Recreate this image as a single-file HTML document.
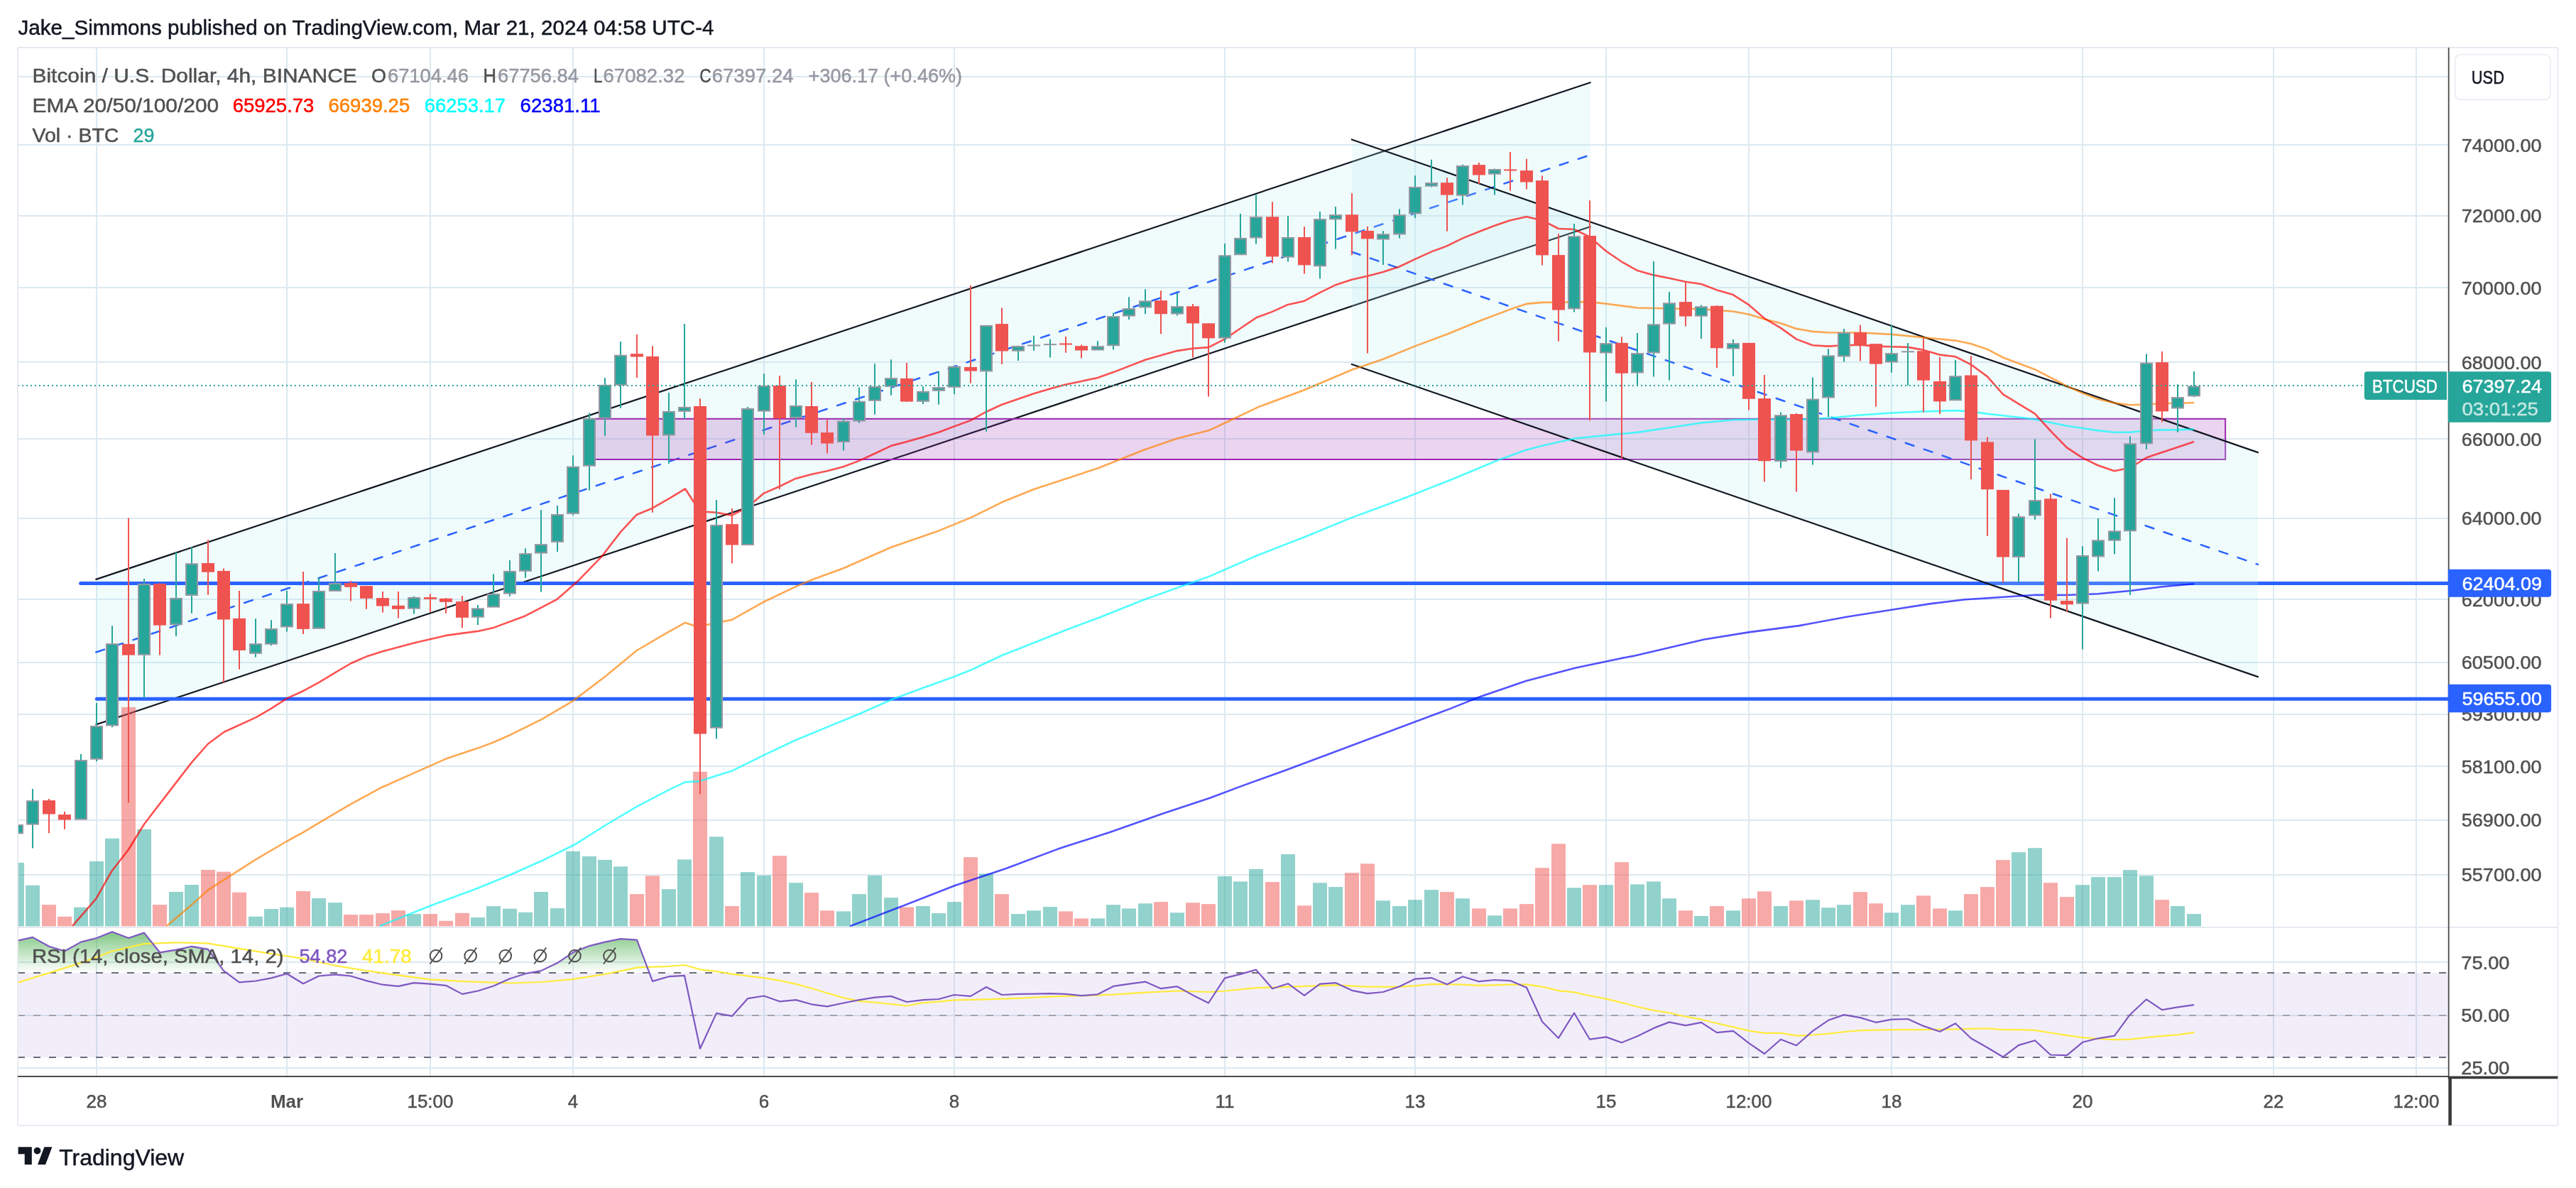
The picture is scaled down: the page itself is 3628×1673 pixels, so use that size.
<!DOCTYPE html>
<html><head><meta charset="utf-8"><title>BTCUSD chart</title>
<style>html,body{margin:0;padding:0;background:#fff;}body{width:3628px;height:1673px;overflow:hidden;}svg{display:block;font-family:"Liberation Sans",sans-serif;will-change:transform;}</style></head><body>
<svg width="3628" height="1673" viewBox="0 0 3628 1673">
<defs>
<linearGradient id="rg" gradientUnits="userSpaceOnUse" x1="0" y1="1300" x2="0" y2="1370"><stop offset="0" stop-color="#4caf50" stop-opacity="0.85"/><stop offset="1" stop-color="#4caf50" stop-opacity="0"/></linearGradient>
<clipPath id="cm"><rect x="25.6" y="67" width="3423.1" height="1239"/></clipPath>
<clipPath id="cr"><rect x="25.6" y="1306" width="3423.1" height="209.8"/></clipPath>
</defs>
<rect width="3628" height="1673" fill="#fff"/>
<g stroke="#dde9f1" stroke-width="2" fill="none">
<path d="M136 67 V1515.8"/>
<path d="M404 67 V1515.8"/>
<path d="M606 67 V1515.8"/>
<path d="M807 67 V1515.8"/>
<path d="M1076 67 V1515.8"/>
<path d="M1344 67 V1515.8"/>
<path d="M1725 67 V1515.8"/>
<path d="M1993 67 V1515.8"/>
<path d="M2262 67 V1515.8"/>
<path d="M2463 67 V1515.8"/>
<path d="M2664 67 V1515.8"/>
<path d="M2933 67 V1515.8"/>
<path d="M3202 67 V1515.8"/>
<path d="M3403 67 V1515.8"/>
<path d="M25 108 H3448.7"/>
<path d="M25 204 H3448.7"/>
<path d="M25 304 H3448.7"/>
<path d="M25 405 H3448.7"/>
<path d="M25 510 H3448.7"/>
<path d="M25 618 H3448.7"/>
<path d="M25 730 H3448.7"/>
<path d="M25 844 H3448.7"/>
<path d="M25 933 H3448.7"/>
<path d="M25 1006 H3448.7"/>
<path d="M25 1079 H3448.7"/>
<path d="M25 1155 H3448.7"/>
<path d="M25 1232 H3448.7"/>
<path d="M25 1355 H3448.7"/>
<path d="M25 1430 H3448.7"/>
<path d="M25 1504 H3448.7"/>
</g>
<rect x="25" y="1370" width="3423.7" height="119" fill="#7e57c2" fill-opacity="0.1"/>
<g clip-path="url(#cm)">
<path d="M135.3 815.9 L2239.7 116.2 L2239.7 319.2 L135.3 1020.4Z" fill="#b2ebf2" fill-opacity="0.2"/>
<path d="M135.3 918.5 L2239.7 218.2" stroke="#2962ff" stroke-width="2.5" fill="none" stroke-linecap="round" stroke-dasharray="12.3 15.2"/>
<path d="M135.3 815.9 L2239.7 116.2" stroke="#131722" stroke-width="2.2" fill="none" stroke-linecap="round"/>
<path d="M135.3 1020.4 L2239.7 319.2" stroke="#131722" stroke-width="2.2" fill="none" stroke-linecap="round"/>
<rect x="829.8" y="589.8" width="2304.4" height="57.2" fill="#9c27b0" fill-opacity="0.2" stroke="#9c27b0" stroke-width="2"/>
<path d="M113.6 821.4 H3448.7" stroke="#2962ff" stroke-width="5" stroke-linecap="round"/>
<path d="M136.3 984.2 H3448.7" stroke="#2962ff" stroke-width="5" stroke-linecap="round"/>
<path d="M1903.8 196.5 L3180 637.1 L3180 953.1 L1903.8 513Z" fill="#b2ebf2" fill-opacity="0.2"/>
<path d="M1903.8 354.7 L3180 794.9" stroke="#2962ff" stroke-width="2.5" fill="none" stroke-linecap="round" stroke-dasharray="12.3 15.2"/>
<path d="M1903.8 196.5 L3180 637.1" stroke="#131722" stroke-width="2.2" fill="none" stroke-linecap="round"/>
<path d="M1903.8 513 L3180 953.1" stroke="#131722" stroke-width="2.2" fill="none" stroke-linecap="round"/>
<g fill-opacity="0.5">
<rect x="14" y="1214.9" width="20" height="89.5" fill="#26a69a"/>
<rect x="36" y="1246.7" width="20" height="57.7" fill="#26a69a"/>
<rect x="59" y="1274.1" width="20" height="30.3" fill="#ef5350"/>
<rect x="81" y="1290.8" width="20" height="13.6" fill="#ef5350"/>
<rect x="104" y="1277.7" width="20" height="26.7" fill="#26a69a"/>
<rect x="126" y="1212.9" width="20" height="91.5" fill="#26a69a"/>
<rect x="148" y="1180.8" width="20" height="123.6" fill="#26a69a"/>
<rect x="171" y="995.8" width="20" height="308.6" fill="#ef5350"/>
<rect x="193" y="1167.8" width="20" height="136.6" fill="#26a69a"/>
<rect x="215" y="1274.1" width="20" height="30.3" fill="#ef5350"/>
<rect x="238" y="1256" width="20" height="48.4" fill="#26a69a"/>
<rect x="260" y="1246" width="20" height="58.4" fill="#26a69a"/>
<rect x="283" y="1225" width="20" height="79.4" fill="#ef5350"/>
<rect x="305" y="1227.6" width="20" height="76.8" fill="#ef5350"/>
<rect x="327" y="1256.7" width="20" height="47.7" fill="#ef5350"/>
<rect x="350" y="1290.8" width="20" height="13.6" fill="#26a69a"/>
<rect x="372" y="1280.1" width="20" height="24.3" fill="#26a69a"/>
<rect x="394" y="1277.7" width="20" height="26.7" fill="#26a69a"/>
<rect x="417" y="1255" width="20" height="49.4" fill="#ef5350"/>
<rect x="439" y="1265" width="20" height="39.4" fill="#26a69a"/>
<rect x="462" y="1271.1" width="20" height="33.3" fill="#26a69a"/>
<rect x="484" y="1288.1" width="20" height="16.3" fill="#ef5350"/>
<rect x="506" y="1288.1" width="20" height="16.3" fill="#ef5350"/>
<rect x="529" y="1286.1" width="20" height="18.3" fill="#ef5350"/>
<rect x="551" y="1282.1" width="20" height="22.3" fill="#ef5350"/>
<rect x="573" y="1287.1" width="20" height="17.3" fill="#26a69a"/>
<rect x="596" y="1287.1" width="20" height="17.3" fill="#ef5350"/>
<rect x="618" y="1296.8" width="20" height="7.6" fill="#ef5350"/>
<rect x="641" y="1285.8" width="20" height="18.6" fill="#ef5350"/>
<rect x="663" y="1292.1" width="20" height="12.3" fill="#26a69a"/>
<rect x="685" y="1276.1" width="20" height="28.3" fill="#26a69a"/>
<rect x="708" y="1279.7" width="20" height="24.7" fill="#26a69a"/>
<rect x="730" y="1284.8" width="20" height="19.6" fill="#26a69a"/>
<rect x="752" y="1256" width="20" height="48.4" fill="#26a69a"/>
<rect x="775" y="1279.1" width="20" height="25.3" fill="#26a69a"/>
<rect x="797" y="1198.9" width="20" height="105.5" fill="#26a69a"/>
<rect x="820" y="1205.9" width="20" height="98.5" fill="#26a69a"/>
<rect x="842" y="1210.9" width="20" height="93.5" fill="#26a69a"/>
<rect x="864" y="1220.3" width="20" height="84.1" fill="#26a69a"/>
<rect x="887" y="1259.1" width="20" height="45.3" fill="#ef5350"/>
<rect x="909" y="1233.3" width="20" height="71.1" fill="#ef5350"/>
<rect x="932" y="1252.1" width="20" height="52.3" fill="#26a69a"/>
<rect x="954" y="1210.4" width="20" height="94" fill="#26a69a"/>
<rect x="976" y="1086.8" width="20" height="217.6" fill="#ef5350"/>
<rect x="999" y="1178.3" width="20" height="126.1" fill="#26a69a"/>
<rect x="1021" y="1276" width="20" height="28.4" fill="#ef5350"/>
<rect x="1043" y="1228.1" width="20" height="76.3" fill="#26a69a"/>
<rect x="1066" y="1232.9" width="20" height="71.5" fill="#26a69a"/>
<rect x="1088" y="1205.2" width="20" height="99.2" fill="#ef5350"/>
<rect x="1111" y="1243.2" width="20" height="61.2" fill="#26a69a"/>
<rect x="1133" y="1257.2" width="20" height="47.2" fill="#ef5350"/>
<rect x="1155" y="1282.3" width="20" height="22.1" fill="#ef5350"/>
<rect x="1178" y="1283.4" width="20" height="21" fill="#26a69a"/>
<rect x="1200" y="1259.1" width="20" height="45.3" fill="#26a69a"/>
<rect x="1222" y="1232.9" width="20" height="71.5" fill="#26a69a"/>
<rect x="1245" y="1264.2" width="20" height="40.2" fill="#26a69a"/>
<rect x="1267" y="1277.5" width="20" height="26.9" fill="#ef5350"/>
<rect x="1290" y="1276" width="20" height="28.4" fill="#26a69a"/>
<rect x="1312" y="1286" width="20" height="18.4" fill="#26a69a"/>
<rect x="1334" y="1270.1" width="20" height="34.3" fill="#26a69a"/>
<rect x="1357" y="1207.1" width="20" height="97.3" fill="#ef5350"/>
<rect x="1379" y="1230.3" width="20" height="74.1" fill="#26a69a"/>
<rect x="1401" y="1259.1" width="20" height="45.3" fill="#ef5350"/>
<rect x="1424" y="1287.1" width="20" height="17.3" fill="#26a69a"/>
<rect x="1446" y="1282.3" width="20" height="22.1" fill="#26a69a"/>
<rect x="1469" y="1277.1" width="20" height="27.3" fill="#26a69a"/>
<rect x="1491" y="1283.4" width="20" height="21" fill="#ef5350"/>
<rect x="1513" y="1293.4" width="20" height="11" fill="#ef5350"/>
<rect x="1536" y="1293.4" width="20" height="11" fill="#26a69a"/>
<rect x="1558" y="1274.2" width="20" height="30.2" fill="#26a69a"/>
<rect x="1580" y="1279.4" width="20" height="25" fill="#26a69a"/>
<rect x="1603" y="1272.3" width="20" height="32.1" fill="#26a69a"/>
<rect x="1625" y="1270.1" width="20" height="34.3" fill="#ef5350"/>
<rect x="1648" y="1285.3" width="20" height="19.1" fill="#26a69a"/>
<rect x="1670" y="1271.2" width="20" height="33.2" fill="#ef5350"/>
<rect x="1692" y="1273.1" width="20" height="31.3" fill="#ef5350"/>
<rect x="1715" y="1234" width="20" height="70.4" fill="#26a69a"/>
<rect x="1737" y="1241.4" width="20" height="63" fill="#26a69a"/>
<rect x="1759" y="1224" width="20" height="80.4" fill="#26a69a"/>
<rect x="1782" y="1242.1" width="20" height="62.3" fill="#ef5350"/>
<rect x="1804" y="1203" width="20" height="101.4" fill="#26a69a"/>
<rect x="1827" y="1275.3" width="20" height="29.1" fill="#ef5350"/>
<rect x="1849" y="1243.2" width="20" height="61.2" fill="#26a69a"/>
<rect x="1871" y="1249.1" width="20" height="55.3" fill="#26a69a"/>
<rect x="1894" y="1229.2" width="20" height="75.2" fill="#ef5350"/>
<rect x="1916" y="1216.3" width="20" height="88.1" fill="#ef5350"/>
<rect x="1938" y="1268.3" width="20" height="36.1" fill="#26a69a"/>
<rect x="1961" y="1276" width="20" height="28.4" fill="#26a69a"/>
<rect x="1983" y="1267.2" width="20" height="37.2" fill="#26a69a"/>
<rect x="2006" y="1253.2" width="20" height="51.2" fill="#26a69a"/>
<rect x="2028" y="1256.1" width="20" height="48.3" fill="#ef5350"/>
<rect x="2050" y="1265.3" width="20" height="39.1" fill="#26a69a"/>
<rect x="2073" y="1279.4" width="20" height="25" fill="#ef5350"/>
<rect x="2095" y="1289.3" width="20" height="15.1" fill="#26a69a"/>
<rect x="2117" y="1279.4" width="20" height="25" fill="#ef5350"/>
<rect x="2140" y="1273.1" width="20" height="31.3" fill="#ef5350"/>
<rect x="2162" y="1222.2" width="20" height="82.2" fill="#ef5350"/>
<rect x="2185" y="1188.3" width="20" height="116.1" fill="#ef5350"/>
<rect x="2207" y="1250.2" width="20" height="54.2" fill="#26a69a"/>
<rect x="2229" y="1246.2" width="20" height="58.2" fill="#ef5350"/>
<rect x="2252" y="1246.2" width="20" height="58.2" fill="#26a69a"/>
<rect x="2274" y="1214.1" width="20" height="90.3" fill="#ef5350"/>
<rect x="2296" y="1245.4" width="20" height="59" fill="#26a69a"/>
<rect x="2319" y="1241.4" width="20" height="63" fill="#26a69a"/>
<rect x="2341" y="1265.3" width="20" height="39.1" fill="#26a69a"/>
<rect x="2364" y="1282.3" width="20" height="22.1" fill="#ef5350"/>
<rect x="2386" y="1290" width="20" height="14.4" fill="#26a69a"/>
<rect x="2408" y="1276" width="20" height="28.4" fill="#ef5350"/>
<rect x="2431" y="1282.3" width="20" height="22.1" fill="#26a69a"/>
<rect x="2453" y="1265.3" width="20" height="39.1" fill="#ef5350"/>
<rect x="2475" y="1255.4" width="20" height="49" fill="#ef5350"/>
<rect x="2498" y="1276" width="20" height="28.4" fill="#26a69a"/>
<rect x="2520" y="1268.3" width="20" height="36.1" fill="#ef5350"/>
<rect x="2543" y="1267.2" width="20" height="37.2" fill="#26a69a"/>
<rect x="2565" y="1278.2" width="20" height="26.2" fill="#26a69a"/>
<rect x="2587" y="1274.2" width="20" height="30.2" fill="#26a69a"/>
<rect x="2610" y="1256.1" width="20" height="48.3" fill="#ef5350"/>
<rect x="2632" y="1272.3" width="20" height="32.1" fill="#ef5350"/>
<rect x="2654" y="1285.3" width="20" height="19.1" fill="#26a69a"/>
<rect x="2677" y="1274.2" width="20" height="30.2" fill="#26a69a"/>
<rect x="2699" y="1261.3" width="20" height="43.1" fill="#ef5350"/>
<rect x="2722" y="1279.4" width="20" height="25" fill="#ef5350"/>
<rect x="2744" y="1282.3" width="20" height="22.1" fill="#26a69a"/>
<rect x="2766" y="1259.1" width="20" height="45.3" fill="#ef5350"/>
<rect x="2789" y="1249.1" width="20" height="55.3" fill="#ef5350"/>
<rect x="2811" y="1211.1" width="20" height="93.3" fill="#ef5350"/>
<rect x="2833" y="1200.1" width="20" height="104.3" fill="#26a69a"/>
<rect x="2856" y="1194.2" width="20" height="110.2" fill="#26a69a"/>
<rect x="2878" y="1243.2" width="20" height="61.2" fill="#ef5350"/>
<rect x="2901" y="1263.1" width="20" height="41.3" fill="#ef5350"/>
<rect x="2923" y="1246.2" width="20" height="58.2" fill="#26a69a"/>
<rect x="2945" y="1235.1" width="20" height="69.3" fill="#26a69a"/>
<rect x="2968" y="1235.1" width="20" height="69.3" fill="#26a69a"/>
<rect x="2990" y="1225.1" width="20" height="79.3" fill="#26a69a"/>
<rect x="3013" y="1233.3" width="20" height="71.1" fill="#26a69a"/>
<rect x="3035" y="1267.2" width="20" height="37.2" fill="#ef5350"/>
<rect x="3057" y="1276" width="20" height="28.4" fill="#26a69a"/>
<rect x="3080" y="1287.1" width="20" height="17.3" fill="#26a69a"/>
</g>
<path d="M1197 1304.4 L1268.8 1276.8 L1344.4 1247.3 L1416.3 1223.3 L1490 1195.6 L1563.8 1171.7 L1637.6 1145.8 L1704 1123.7 L1748.2 1107.1 L1809.8 1085 L2042.1 998.1 L2086.4 980.4 L2149.1 959 L2219.1 940.6 L2283.7 926.9 L2300 923.9 L2350.1 912.2 L2400.2 900.5 L2462.7 890.4 L2533.9 881.1 L2600.7 868.7 L2664.2 858.7 L2717.6 850.4 L2767.8 844.3 L2817.9 841 L2868 837.7 L2911.4 838 L2954.9 836.3 L3000 832 L3045.1 826.3 L3090.2 822.3" stroke="#0000ff" stroke-width="2.6" fill="none" stroke-linejoin="round" stroke-opacity="0.68"/>
<path d="M534.6 1304.1 L605.7 1275.7 L672.9 1250.7 L718 1232.3 L762.8 1212.3 L807.2 1190.5 L813.6 1186.9 L852 1162.5 L896.8 1135.8 L941.9 1112.4 L965 1101.4 L986 1100.1 L1008.7 1092.4 L1030.8 1085.7 L1075.9 1063.3 L1120.6 1042.3 L1165.1 1023.9 L1209.9 1005.5 L1255 985.5 L1300.1 968.8 L1344.2 952.7 L1366.9 943.7 L1411 923 L1456.1 905.3 L1500.4 887.5 L1547.9 869.8 L1610.6 844.7 L1702.8 811.9 L1772.9 781.3 L1839.3 755.5 L1902 729.6 L1972 703.8 L2042.1 676.2 L2108.5 648.5 L2149.1 633.8 L2174.9 627.1 L2219.1 617.2 L2283.7 610.9 L2306.1 608.9 L2350.9 602.2 L2396 595.5 L2440.8 591.2 L2485.2 590.5 L2530 591.2 L2574.8 588.8 L2619.9 584.5 L2664 581.5 L2709.1 579.5 L2754.2 578.1 L2776.2 579.5 L2799 582.8 L2821.1 585.3 L2865.9 590.4 L2911 599.7 L2933.1 603 L2955.1 606.4 L2977.8 608.7 L3000.2 608.7 L3022.9 606.4 L3045 605.4 L3067 605.4 L3090.1 604.4" stroke="#00ffff" stroke-width="2.6" fill="none" stroke-linejoin="round" stroke-opacity="0.68"/>
<path d="M234.9 1304.1 L270 1274.1 L293 1253.4 L325.8 1232.3 L359.8 1210.6 L404.3 1184.5 L427 1172.2 L449 1158.8 L494.5 1132.1 L537.9 1108.7 L583 1088.6 L628.1 1068.6 L672.9 1053.6 L695.3 1045.2 L718 1035.2 L762.6 1013.2 L806.9 987.1 L852 953 L896.8 916 L941.9 889.6 L965 876.9 L977.3 880.9 L994 880.2 L1008.7 876.9 L1030.8 872.9 L1053.2 860.2 L1075.9 847.5 L1120.6 826.1 L1142.7 816.7 L1187.8 800.2 L1255 770.8 L1322.1 747.4 L1366.9 729.1 L1411 707.3 L1456.1 689 L1500.4 674.5 L1547.9 658.8 L1610.6 633.8 L1658.6 617.2 L1702.8 606.1 L1739.7 588.8 L1772.9 572.9 L1836.8 549.2 L1903.9 520.8 L1948 505.8 L1993.2 487.4 L2037.9 470.7 L2083 452.3 L2127.1 435.6 L2149.8 427.9 L2171.9 425.9 L2194.9 425.7 L2239 425.1 L2262 427.8 L2306.1 433.5 L2350.9 434.5 L2396 435.1 L2440.8 438.5 L2463.2 442.8 L2485.2 449.5 L2508 455.2 L2530 462.9 L2552.7 466.9 L2574.8 468.2 L2619.9 468.5 L2664 470.9 L2709.1 475.2 L2754.2 479.6 L2776.2 484.2 L2799 491.9 L2821.1 503.5 L2865.9 520.2 L2888.3 531.9 L2911 543.6 L2933.1 553.6 L2955.1 562 L2977.8 567.6 L3000.2 570.3 L3022.9 569.6 L3045 568 L3067 568 L3090.1 567" stroke="#ff8000" stroke-width="2.6" fill="none" stroke-linejoin="round" stroke-opacity="0.68"/>
<path d="M101.9 1304.1 L135.3 1265.7 L157 1227.3 L180.4 1197.2 L203.1 1160.5 L233.9 1120.4 L270 1073.6 L293 1047.5 L315.7 1030.8 L360.8 1010.1 L382.6 997.4 L404.3 983.4 L427.7 972.7 L449 961.1 L471.8 947.4 L494.5 934 L516.2 924.6 L538.9 917.3 L583 905.6 L628.1 894.9 L672.9 888.9 L695.3 883.9 L740.1 867.2 L784.8 843.8 L815.3 816.9 L847 784.2 L874.1 749.1 L896.8 724.7 L918.8 715.7 L941.9 702.3 L965 688.3 L977.3 707.3 L986 718.4 L994 720.7 L1008.7 721.7 L1030.8 725.7 L1053.2 714 L1075.9 694.6 L1097.9 685 L1120.6 673.9 L1142.7 667.9 L1165.1 663.2 L1187.8 657.2 L1209.9 648.9 L1231.9 638.8 L1255 627.8 L1277 622.1 L1300.1 615.5 L1322.1 608.8 L1344.2 600.4 L1366.9 592.1 L1389.3 579.7 L1411 569.7 L1433.7 562 L1456.1 554.3 L1478.8 547.6 L1500.9 541.6 L1522.9 536.9 L1546 531.9 L1568.2 524.1 L1612.9 506.8 L1657.7 494.1 L1679.8 490.7 L1702.1 489.1 L1725.2 477.4 L1747.2 462.3 L1769.3 447.3 L1792 438.9 L1814.1 428.9 L1836.8 423.9 L1858.8 412.2 L1881.2 401.2 L1903.9 393.8 L1926 388.8 L1948 383.1 L1970.8 375.5 L1993.2 364.8 L2016.2 354.4 L2037.9 346.4 L2060.3 335.4 L2083 326.3 L2105.1 317.7 L2127.1 310.3 L2149.8 305.3 L2171.9 310.3 L2195 322 L2217 323 L2239.1 333.7 L2262.1 353.7 L2284.2 368.8 L2306.2 381.1 L2328.9 387.4 L2350.9 391.7 L2373.6 396.7 L2396 400 L2418.1 408.4 L2440.8 415.1 L2463.2 429.4 L2485.2 448.5 L2508 461.9 L2530 477.6 L2552.7 486.2 L2574.8 487.6 L2597.2 486.2 L2619.9 485.6 L2641.9 487.6 L2664 488.3 L2687 488.9 L2709.1 492.9 L2731.8 499.6 L2754.2 502.3 L2776.2 513.6 L2799 530.4 L2821.1 555.3 L2842.9 568.6 L2865.9 582.7 L2888.3 607.1 L2911 630.4 L2933.1 644.8 L2955.1 655.5 L2977.8 663.2 L3000.2 658.8 L3022.9 644.5 L3045 637.1 L3067 629.8 L3090.1 622.1" stroke="#ff0000" stroke-width="2.6" fill="none" stroke-linejoin="round" stroke-opacity="0.68"/>
<path d="M24 1157.1 V1180.5" stroke="#26a69a" stroke-width="2"/>
<rect x="16" y="1162" width="16" height="11.4" fill="#26a69a" stroke="#9598a1" stroke-width="2"/>
<path d="M46 1111 V1194.5" stroke="#26a69a" stroke-width="2"/>
<rect x="38" y="1128.2" width="16" height="32.4" fill="#26a69a" stroke="#9598a1" stroke-width="2"/>
<path d="M69 1125.1 V1173.2" stroke="#ef5350" stroke-width="2"/>
<rect x="60" y="1127.1" width="18" height="19.4" fill="#ef5350"/>
<path d="M91 1143.1 V1167.8" stroke="#ef5350" stroke-width="2"/>
<rect x="82" y="1147.1" width="18" height="7.4" fill="#ef5350"/>
<path d="M114 1061.9 V1154.1" stroke="#26a69a" stroke-width="2"/>
<rect x="106" y="1071.1" width="16" height="82.5" fill="#26a69a" stroke="#9598a1" stroke-width="2"/>
<path d="M136 990.1 V1072.3" stroke="#26a69a" stroke-width="2"/>
<rect x="128" y="1023" width="16" height="45.7" fill="#26a69a" stroke="#9598a1" stroke-width="2"/>
<path d="M158 881.2 V1024.2" stroke="#26a69a" stroke-width="2"/>
<rect x="150" y="907.1" width="16" height="114.3" fill="#26a69a" stroke="#9598a1" stroke-width="2"/>
<path d="M181 729.5 V1130.4" stroke="#ef5350" stroke-width="2"/>
<rect x="172" y="906.9" width="18" height="15.7" fill="#ef5350"/>
<path d="M203 815.1 V983.1" stroke="#26a69a" stroke-width="2"/>
<rect x="195" y="822.9" width="16" height="98.9" fill="#26a69a" stroke="#9598a1" stroke-width="2"/>
<path d="M225 821.1 V922.6" stroke="#ef5350" stroke-width="2"/>
<rect x="216" y="822.1" width="18" height="58.5" fill="#ef5350"/>
<path d="M248 778 V895.9" stroke="#26a69a" stroke-width="2"/>
<rect x="240" y="842.9" width="16" height="36.4" fill="#26a69a" stroke="#9598a1" stroke-width="2"/>
<path d="M270 770.3 V863.8" stroke="#26a69a" stroke-width="2"/>
<rect x="262" y="794.2" width="16" height="43.8" fill="#26a69a" stroke="#9598a1" stroke-width="2"/>
<path d="M293 760.3 V837.8" stroke="#ef5350" stroke-width="2"/>
<rect x="284" y="793" width="18" height="12.7" fill="#ef5350"/>
<path d="M315 800.4 V960.7" stroke="#ef5350" stroke-width="2"/>
<rect x="306" y="804" width="18" height="68.5" fill="#ef5350"/>
<path d="M337 832.1 V942.7" stroke="#ef5350" stroke-width="2"/>
<rect x="328" y="870.8" width="18" height="45.1" fill="#ef5350"/>
<path d="M360 871.2 V925.6" stroke="#26a69a" stroke-width="2"/>
<rect x="352" y="907.1" width="16" height="12.7" fill="#26a69a" stroke="#9598a1" stroke-width="2"/>
<path d="M382 873.2 V908.9" stroke="#26a69a" stroke-width="2"/>
<rect x="374" y="886" width="16" height="20.7" fill="#26a69a" stroke="#9598a1" stroke-width="2"/>
<path d="M404 832.1 V889.6" stroke="#26a69a" stroke-width="2"/>
<rect x="396" y="851" width="16" height="31.4" fill="#26a69a" stroke="#9598a1" stroke-width="2"/>
<path d="M427 805 V892.9" stroke="#ef5350" stroke-width="2"/>
<rect x="418" y="850.1" width="18" height="35.8" fill="#ef5350"/>
<path d="M449 813.7 V885.2" stroke="#26a69a" stroke-width="2"/>
<rect x="441" y="832.9" width="16" height="51.8" fill="#26a69a" stroke="#9598a1" stroke-width="2"/>
<path d="M472 779 V832.4" stroke="#26a69a" stroke-width="2"/>
<rect x="464" y="821.9" width="16" height="10" fill="#26a69a" stroke="#9598a1" stroke-width="2"/>
<path d="M494 818.1 V846.5" stroke="#ef5350" stroke-width="2"/>
<rect x="485" y="821.1" width="18" height="5.7" fill="#ef5350"/>
<path d="M516 825.1 V857.8" stroke="#ef5350" stroke-width="2"/>
<rect x="507" y="825.1" width="18" height="17.7" fill="#ef5350"/>
<path d="M539 833.1 V862.5" stroke="#ef5350" stroke-width="2"/>
<rect x="530" y="842.1" width="18" height="11.4" fill="#ef5350"/>
<path d="M561 833.1 V870.5" stroke="#ef5350" stroke-width="2"/>
<rect x="552" y="852.8" width="18" height="5" fill="#ef5350"/>
<path d="M583 839.8 V864.5" stroke="#26a69a" stroke-width="2"/>
<rect x="575" y="841.9" width="16" height="14.7" fill="#26a69a" stroke="#9598a1" stroke-width="2"/>
<path d="M606 836.4 V861.8" stroke="#ef5350" stroke-width="2"/>
<rect x="597" y="841.1" width="18" height="2.7" fill="#ef5350"/>
<path d="M628 842.1 V863.8" stroke="#ef5350" stroke-width="2"/>
<rect x="619" y="842.8" width="18" height="5" fill="#ef5350"/>
<path d="M651 839.1 V883.9" stroke="#ef5350" stroke-width="2"/>
<rect x="642" y="847.1" width="18" height="22.7" fill="#ef5350"/>
<path d="M673 852.1 V879.9" stroke="#26a69a" stroke-width="2"/>
<rect x="665" y="857.3" width="16" height="11.4" fill="#26a69a" stroke="#9598a1" stroke-width="2"/>
<path d="M695 808.4 V855.1" stroke="#26a69a" stroke-width="2"/>
<rect x="687" y="836.9" width="16" height="17.7" fill="#26a69a" stroke="#9598a1" stroke-width="2"/>
<path d="M718 789 V839.8" stroke="#26a69a" stroke-width="2"/>
<rect x="710" y="804.9" width="16" height="30.7" fill="#26a69a" stroke="#9598a1" stroke-width="2"/>
<path d="M740 772.3 V813.7" stroke="#26a69a" stroke-width="2"/>
<rect x="732" y="780.1" width="16" height="23.7" fill="#26a69a" stroke="#9598a1" stroke-width="2"/>
<path d="M762 718.2 V833.8" stroke="#26a69a" stroke-width="2"/>
<rect x="754" y="767.1" width="16" height="11.4" fill="#26a69a" stroke="#9598a1" stroke-width="2"/>
<path d="M785 712.1 V777" stroke="#26a69a" stroke-width="2"/>
<rect x="777" y="725" width="16" height="37.8" fill="#26a69a" stroke="#9598a1" stroke-width="2"/>
<path d="M807 641.2 V725.7" stroke="#26a69a" stroke-width="2"/>
<rect x="799" y="657.7" width="16" height="65.2" fill="#26a69a" stroke="#9598a1" stroke-width="2"/>
<path d="M830 581.4 V690.6" stroke="#26a69a" stroke-width="2"/>
<rect x="822" y="589.9" width="16" height="65.8" fill="#26a69a" stroke="#9598a1" stroke-width="2"/>
<path d="M852 531.9 V613.8" stroke="#26a69a" stroke-width="2"/>
<rect x="844" y="542.8" width="16" height="45.8" fill="#26a69a" stroke="#9598a1" stroke-width="2"/>
<path d="M874 481.1 V574.7" stroke="#26a69a" stroke-width="2"/>
<rect x="866" y="500.7" width="16" height="41.1" fill="#26a69a" stroke="#9598a1" stroke-width="2"/>
<path d="M897 471.1 V531.9" stroke="#ef5350" stroke-width="2"/>
<rect x="888" y="498.2" width="18" height="4.3" fill="#ef5350"/>
<path d="M919 487.2 V721.7" stroke="#ef5350" stroke-width="2"/>
<rect x="910" y="501.9" width="18" height="111.6" fill="#ef5350"/>
<path d="M942 553 V652.9" stroke="#26a69a" stroke-width="2"/>
<rect x="934" y="579.9" width="16" height="32.7" fill="#26a69a" stroke="#9598a1" stroke-width="2"/>
<path d="M964 456.1 V589.7" stroke="#26a69a" stroke-width="2"/>
<rect x="956" y="573.9" width="16" height="5" fill="#26a69a" stroke="#9598a1" stroke-width="2"/>
<path d="M986 561.3 V1118.4" stroke="#ef5350" stroke-width="2"/>
<rect x="977" y="572" width="18" height="461.5" fill="#ef5350"/>
<path d="M1009 704 V1040.6" stroke="#26a69a" stroke-width="2"/>
<rect x="1001" y="739.9" width="16" height="284.8" fill="#26a69a" stroke="#9598a1" stroke-width="2"/>
<path d="M1031 716 V793.5" stroke="#ef5350" stroke-width="2"/>
<rect x="1022" y="738.1" width="18" height="29.4" fill="#ef5350"/>
<path d="M1053 573 V767.5" stroke="#26a69a" stroke-width="2"/>
<rect x="1045" y="575.9" width="16" height="191.1" fill="#26a69a" stroke="#9598a1" stroke-width="2"/>
<path d="M1076 526.2 V611.8" stroke="#26a69a" stroke-width="2"/>
<rect x="1068" y="543.8" width="16" height="34.8" fill="#26a69a" stroke="#9598a1" stroke-width="2"/>
<path d="M1098 528.9 V689.3" stroke="#ef5350" stroke-width="2"/>
<rect x="1089" y="543" width="18" height="46.1" fill="#ef5350"/>
<path d="M1121 534.3 V601.8" stroke="#26a69a" stroke-width="2"/>
<rect x="1113" y="571.9" width="16" height="16" fill="#26a69a" stroke="#9598a1" stroke-width="2"/>
<path d="M1143 537.9 V626.5" stroke="#ef5350" stroke-width="2"/>
<rect x="1134" y="572" width="18" height="37.8" fill="#ef5350"/>
<path d="M1165 590.4 V638.5" stroke="#ef5350" stroke-width="2"/>
<rect x="1156" y="609.1" width="18" height="15.4" fill="#ef5350"/>
<path d="M1188 589.1 V634.5" stroke="#26a69a" stroke-width="2"/>
<rect x="1180" y="593.6" width="16" height="28.4" fill="#26a69a" stroke="#9598a1" stroke-width="2"/>
<path d="M1210 545.6 V595.7" stroke="#26a69a" stroke-width="2"/>
<rect x="1202" y="565.8" width="16" height="26.7" fill="#26a69a" stroke="#9598a1" stroke-width="2"/>
<path d="M1232 512.2 V583.7" stroke="#26a69a" stroke-width="2"/>
<rect x="1224" y="544.8" width="16" height="19" fill="#26a69a" stroke="#9598a1" stroke-width="2"/>
<path d="M1255 506.2 V556.7" stroke="#26a69a" stroke-width="2"/>
<rect x="1247" y="533.1" width="16" height="10.7" fill="#26a69a" stroke="#9598a1" stroke-width="2"/>
<path d="M1277 510.9 V565.7" stroke="#ef5350" stroke-width="2"/>
<rect x="1268" y="532.9" width="18" height="32.7" fill="#ef5350"/>
<path d="M1300 544.3 V569" stroke="#26a69a" stroke-width="2"/>
<rect x="1292" y="551.8" width="16" height="13" fill="#26a69a" stroke="#9598a1" stroke-width="2"/>
<path d="M1322 522.9 V569.7" stroke="#26a69a" stroke-width="2"/>
<rect x="1314" y="546.1" width="16" height="3.7" fill="#26a69a" stroke="#9598a1" stroke-width="2"/>
<path d="M1344 515.6 V555" stroke="#26a69a" stroke-width="2"/>
<rect x="1336" y="516.7" width="16" height="28.1" fill="#26a69a" stroke="#9598a1" stroke-width="2"/>
<path d="M1367 402 V539.6" stroke="#ef5350" stroke-width="2"/>
<rect x="1358" y="516.9" width="18" height="5.7" fill="#ef5350"/>
<path d="M1389 458.4 V607.8" stroke="#26a69a" stroke-width="2"/>
<rect x="1381" y="458.9" width="16" height="63.5" fill="#26a69a" stroke="#9598a1" stroke-width="2"/>
<path d="M1411 433.4 V512.9" stroke="#ef5350" stroke-width="2"/>
<rect x="1402" y="456.1" width="18" height="38.4" fill="#ef5350"/>
<path d="M1434 486.8 V507.9" stroke="#26a69a" stroke-width="2"/>
<rect x="1426" y="488" width="16" height="5.7" fill="#26a69a" stroke="#9598a1" stroke-width="2"/>
<path d="M1456 472.8 V493.8" stroke="#26a69a" stroke-width="2"/>
<rect x="1447" y="485.5" width="18" height="2" fill="#9598a1"/>
<path d="M1479 477.5 V503.5" stroke="#26a69a" stroke-width="2"/>
<rect x="1470" y="484.1" width="18" height="2" fill="#9598a1"/>
<path d="M1501 474.1 V496.8" stroke="#ef5350" stroke-width="2"/>
<rect x="1492" y="483.5" width="18" height="2" fill="#ef5350"/>
<path d="M1523 485.5 V504.5" stroke="#ef5350" stroke-width="2"/>
<rect x="1514" y="487.2" width="18" height="6.3" fill="#ef5350"/>
<path d="M1546 480 V493.1" stroke="#26a69a" stroke-width="2"/>
<rect x="1538" y="488.2" width="16" height="4.3" fill="#26a69a" stroke="#9598a1" stroke-width="2"/>
<path d="M1568 440.6 V492.4" stroke="#26a69a" stroke-width="2"/>
<rect x="1560" y="446.1" width="16" height="40.1" fill="#26a69a" stroke="#9598a1" stroke-width="2"/>
<path d="M1590 418.2 V450" stroke="#26a69a" stroke-width="2"/>
<rect x="1582" y="435.1" width="16" height="9.4" fill="#26a69a" stroke="#9598a1" stroke-width="2"/>
<path d="M1613 407.2 V442.3" stroke="#26a69a" stroke-width="2"/>
<rect x="1605" y="424.4" width="16" height="8" fill="#26a69a" stroke="#9598a1" stroke-width="2"/>
<path d="M1635 409.2 V470.3" stroke="#ef5350" stroke-width="2"/>
<rect x="1626" y="423.2" width="18" height="19" fill="#ef5350"/>
<path d="M1658 412.9 V444.6" stroke="#26a69a" stroke-width="2"/>
<rect x="1650" y="432.1" width="16" height="9.4" fill="#26a69a" stroke="#9598a1" stroke-width="2"/>
<path d="M1680 427.9 V503.4" stroke="#ef5350" stroke-width="2"/>
<rect x="1671" y="431.3" width="18" height="24.1" fill="#ef5350"/>
<path d="M1702 455.3 V558.5" stroke="#ef5350" stroke-width="2"/>
<rect x="1693" y="455.3" width="18" height="21" fill="#ef5350"/>
<path d="M1725 343 V482.4" stroke="#26a69a" stroke-width="2"/>
<rect x="1717" y="360.3" width="16" height="115.3" fill="#26a69a" stroke="#9598a1" stroke-width="2"/>
<path d="M1747 300.9 V358.8" stroke="#26a69a" stroke-width="2"/>
<rect x="1739" y="335.9" width="16" height="22.4" fill="#26a69a" stroke="#9598a1" stroke-width="2"/>
<path d="M1769 274.2 V343.7" stroke="#26a69a" stroke-width="2"/>
<rect x="1761" y="306.1" width="16" height="28.4" fill="#26a69a" stroke="#9598a1" stroke-width="2"/>
<path d="M1792 284.2 V370.4" stroke="#ef5350" stroke-width="2"/>
<rect x="1783" y="305.3" width="18" height="56.1" fill="#ef5350"/>
<path d="M1814 304.3 V368.4" stroke="#26a69a" stroke-width="2"/>
<rect x="1806" y="334.9" width="16" height="26.7" fill="#26a69a" stroke="#9598a1" stroke-width="2"/>
<path d="M1837 319.3 V385.5" stroke="#ef5350" stroke-width="2"/>
<rect x="1828" y="334" width="18" height="39.4" fill="#ef5350"/>
<path d="M1859 297.9 V392.5" stroke="#26a69a" stroke-width="2"/>
<rect x="1851" y="309.1" width="16" height="65.2" fill="#26a69a" stroke="#9598a1" stroke-width="2"/>
<path d="M1881 290.9 V350.4" stroke="#26a69a" stroke-width="2"/>
<rect x="1873" y="303.1" width="16" height="5.3" fill="#26a69a" stroke="#9598a1" stroke-width="2"/>
<path d="M1904 272.2 V359.1" stroke="#ef5350" stroke-width="2"/>
<rect x="1895" y="302.3" width="18" height="24.1" fill="#ef5350"/>
<path d="M1926 319 V497.4" stroke="#ef5350" stroke-width="2"/>
<rect x="1917" y="325" width="18" height="11.4" fill="#ef5350"/>
<path d="M1948 325.3 V373.1" stroke="#26a69a" stroke-width="2"/>
<rect x="1940" y="330.2" width="16" height="6.4" fill="#26a69a" stroke="#9598a1" stroke-width="2"/>
<path d="M1971 294.3 V335.4" stroke="#26a69a" stroke-width="2"/>
<rect x="1963" y="303.1" width="16" height="26.4" fill="#26a69a" stroke="#9598a1" stroke-width="2"/>
<path d="M1993 247.2 V307" stroke="#26a69a" stroke-width="2"/>
<rect x="1985" y="264" width="16" height="36.4" fill="#26a69a" stroke="#9598a1" stroke-width="2"/>
<path d="M2016 224.8 V263.5" stroke="#26a69a" stroke-width="2"/>
<rect x="2008" y="258" width="16" height="3.7" fill="#26a69a" stroke="#9598a1" stroke-width="2"/>
<path d="M2038 250.2 V325.7" stroke="#ef5350" stroke-width="2"/>
<rect x="2029" y="257.2" width="18" height="17.4" fill="#ef5350"/>
<path d="M2060 231.8 V288.6" stroke="#26a69a" stroke-width="2"/>
<rect x="2052" y="234" width="16" height="40.8" fill="#26a69a" stroke="#9598a1" stroke-width="2"/>
<path d="M2083 229.1 V258.9" stroke="#ef5350" stroke-width="2"/>
<rect x="2074" y="232.1" width="18" height="14.4" fill="#ef5350"/>
<path d="M2105 237.5 V274.6" stroke="#26a69a" stroke-width="2"/>
<rect x="2097" y="239" width="16" height="5.7" fill="#26a69a" stroke="#9598a1" stroke-width="2"/>
<path d="M2127 214.1 V268.5" stroke="#ef5350" stroke-width="2"/>
<rect x="2118" y="238.5" width="18" height="2" fill="#ef5350"/>
<path d="M2150 223.8 V266.5" stroke="#ef5350" stroke-width="2"/>
<rect x="2141" y="240.1" width="18" height="16.4" fill="#ef5350"/>
<path d="M2172 247.2 V373.5" stroke="#ef5350" stroke-width="2"/>
<rect x="2163" y="254.2" width="18" height="105.2" fill="#ef5350"/>
<path d="M2195 329.3 V480.7" stroke="#ef5350" stroke-width="2"/>
<rect x="2186" y="359.1" width="18" height="77.5" fill="#ef5350"/>
<path d="M2217 315 V439.6" stroke="#26a69a" stroke-width="2"/>
<rect x="2209" y="333.2" width="16" height="101.2" fill="#26a69a" stroke="#9598a1" stroke-width="2"/>
<path d="M2239 282.2 V592.2" stroke="#ef5350" stroke-width="2"/>
<rect x="2230" y="332" width="18" height="164.4" fill="#ef5350"/>
<path d="M2262 460.9 V565.4" stroke="#26a69a" stroke-width="2"/>
<rect x="2254" y="484.1" width="16" height="12.4" fill="#26a69a" stroke="#9598a1" stroke-width="2"/>
<path d="M2284 474.2 V645.6" stroke="#ef5350" stroke-width="2"/>
<rect x="2275" y="482.9" width="18" height="42.8" fill="#ef5350"/>
<path d="M2306 468.9 V543.7" stroke="#26a69a" stroke-width="2"/>
<rect x="2298" y="498.1" width="16" height="26.4" fill="#26a69a" stroke="#9598a1" stroke-width="2"/>
<path d="M2329 368.1 V530.4" stroke="#26a69a" stroke-width="2"/>
<rect x="2321" y="457.3" width="16" height="39.1" fill="#26a69a" stroke="#9598a1" stroke-width="2"/>
<path d="M2351 411.1 V535.4" stroke="#26a69a" stroke-width="2"/>
<rect x="2343" y="427.3" width="16" height="28.4" fill="#26a69a" stroke="#9598a1" stroke-width="2"/>
<path d="M2374 397.4 V459.5" stroke="#ef5350" stroke-width="2"/>
<rect x="2365" y="425.1" width="18" height="20.4" fill="#ef5350"/>
<path d="M2396 429.4 V476.9" stroke="#26a69a" stroke-width="2"/>
<rect x="2388" y="432.3" width="16" height="12.4" fill="#26a69a" stroke="#9598a1" stroke-width="2"/>
<path d="M2418 430.1 V518.3" stroke="#ef5350" stroke-width="2"/>
<rect x="2409" y="430.8" width="18" height="59.5" fill="#ef5350"/>
<path d="M2441 477.9 V529.7" stroke="#26a69a" stroke-width="2"/>
<rect x="2433" y="484.1" width="16" height="6.4" fill="#26a69a" stroke="#9598a1" stroke-width="2"/>
<path d="M2463 482.9 V577.5" stroke="#ef5350" stroke-width="2"/>
<rect x="2454" y="482.9" width="18" height="78.9" fill="#ef5350"/>
<path d="M2485 528 V678.4" stroke="#ef5350" stroke-width="2"/>
<rect x="2476" y="561.1" width="18" height="88.2" fill="#ef5350"/>
<path d="M2508 580.5 V659.3" stroke="#26a69a" stroke-width="2"/>
<rect x="2500" y="585.3" width="16" height="63.8" fill="#26a69a" stroke="#9598a1" stroke-width="2"/>
<path d="M2530 582.1 V692.4" stroke="#ef5350" stroke-width="2"/>
<rect x="2521" y="583.1" width="18" height="51.5" fill="#ef5350"/>
<path d="M2553 531.4 V654.6" stroke="#26a69a" stroke-width="2"/>
<rect x="2545" y="562.6" width="16" height="73.8" fill="#26a69a" stroke="#9598a1" stroke-width="2"/>
<path d="M2575 491.3 V587.2" stroke="#26a69a" stroke-width="2"/>
<rect x="2567" y="501.4" width="16" height="58.1" fill="#26a69a" stroke="#9598a1" stroke-width="2"/>
<path d="M2597 462.9 V509.6" stroke="#26a69a" stroke-width="2"/>
<rect x="2589" y="469" width="16" height="32.4" fill="#26a69a" stroke="#9598a1" stroke-width="2"/>
<path d="M2620 457.8 V508.6" stroke="#ef5350" stroke-width="2"/>
<rect x="2611" y="468.2" width="18" height="17.7" fill="#ef5350"/>
<path d="M2642 484.2 V572.8" stroke="#ef5350" stroke-width="2"/>
<rect x="2633" y="484.2" width="18" height="28.4" fill="#ef5350"/>
<path d="M2664 457.5 V524.7" stroke="#26a69a" stroke-width="2"/>
<rect x="2656" y="498.1" width="16" height="11.4" fill="#26a69a" stroke="#9598a1" stroke-width="2"/>
<path d="M2687 482.9 V543" stroke="#26a69a" stroke-width="2"/>
<rect x="2678" y="494.3" width="18" height="2" fill="#9598a1"/>
<path d="M2709 475.2 V580.5" stroke="#ef5350" stroke-width="2"/>
<rect x="2700" y="494.3" width="18" height="41.4" fill="#ef5350"/>
<path d="M2732 503 V583.1" stroke="#ef5350" stroke-width="2"/>
<rect x="2723" y="537" width="18" height="28.4" fill="#ef5350"/>
<path d="M2754 507 V563.8" stroke="#26a69a" stroke-width="2"/>
<rect x="2746" y="530.2" width="16" height="33.1" fill="#26a69a" stroke="#9598a1" stroke-width="2"/>
<path d="M2776 501.1 V674.9" stroke="#ef5350" stroke-width="2"/>
<rect x="2767" y="528.5" width="18" height="91.9" fill="#ef5350"/>
<path d="M2799 615.4 V754.7" stroke="#ef5350" stroke-width="2"/>
<rect x="2790" y="622.4" width="18" height="66.8" fill="#ef5350"/>
<path d="M2821 689.9 V820.3" stroke="#ef5350" stroke-width="2"/>
<rect x="2812" y="689.9" width="18" height="94.6" fill="#ef5350"/>
<path d="M2843 723.4 V819.6" stroke="#26a69a" stroke-width="2"/>
<rect x="2835" y="728.2" width="16" height="55.8" fill="#26a69a" stroke="#9598a1" stroke-width="2"/>
<path d="M2866 618.4 V731.7" stroke="#26a69a" stroke-width="2"/>
<rect x="2858" y="705.1" width="16" height="20.4" fill="#26a69a" stroke="#9598a1" stroke-width="2"/>
<path d="M2888 695.6 V870.4" stroke="#ef5350" stroke-width="2"/>
<rect x="2879" y="702.3" width="18" height="143.4" fill="#ef5350"/>
<path d="M2911 757.8 V862" stroke="#ef5350" stroke-width="2"/>
<rect x="2902" y="846" width="18" height="5.3" fill="#ef5350"/>
<path d="M2933 769.2 V914.5" stroke="#26a69a" stroke-width="2"/>
<rect x="2925" y="783" width="16" height="66.5" fill="#26a69a" stroke="#9598a1" stroke-width="2"/>
<path d="M2955 730.1 V804.6" stroke="#26a69a" stroke-width="2"/>
<rect x="2947" y="761.3" width="16" height="22.1" fill="#26a69a" stroke="#9598a1" stroke-width="2"/>
<path d="M2978 701 V780.2" stroke="#26a69a" stroke-width="2"/>
<rect x="2970" y="748.3" width="16" height="12.4" fill="#26a69a" stroke="#9598a1" stroke-width="2"/>
<path d="M3000 614.4 V838" stroke="#26a69a" stroke-width="2"/>
<rect x="2992" y="625.3" width="16" height="122" fill="#26a69a" stroke="#9598a1" stroke-width="2"/>
<path d="M3023 498.5 V632.8" stroke="#26a69a" stroke-width="2"/>
<rect x="3015" y="511.7" width="16" height="112.6" fill="#26a69a" stroke="#9598a1" stroke-width="2"/>
<path d="M3045 495.1 V594.4" stroke="#ef5350" stroke-width="2"/>
<rect x="3036" y="510.2" width="18" height="69.2" fill="#ef5350"/>
<path d="M3067 541.2 V608.7" stroke="#26a69a" stroke-width="2"/>
<rect x="3059" y="560.1" width="16" height="14.4" fill="#26a69a" stroke="#9598a1" stroke-width="2"/>
<path d="M3090 522.9 V559.3" stroke="#26a69a" stroke-width="2"/>
<rect x="3082" y="544.4" width="16" height="13" fill="#26a69a" stroke="#9598a1" stroke-width="2"/>
<path d="M25 543 H3330" stroke="#26a69a" stroke-width="2" stroke-dasharray="2 4"/>
</g>
<g clip-path="url(#cr)">
<clipPath id="c70"><rect x="0" y="1306" width="3628" height="64"/></clipPath>
<path d="M25 1370 L25 1324.7 L46 1319.9 L69 1332.8 L91 1339.5 L114 1326.6 L136 1321 L158 1312.2 L181 1321 L203 1313.6 L225 1341.3 L248 1337.6 L270 1332.8 L293 1336.9 L315 1367.1 L337 1383.3 L360 1381.5 L382 1377.4 L404 1371.2 L427 1385.2 L449 1374.5 L472 1372.3 L494 1374.5 L516 1381.1 L539 1386.7 L561 1388.9 L583 1384.1 L606 1385.6 L628 1387.8 L651 1399.9 L673 1395.5 L695 1388.5 L718 1378.2 L740 1371.2 L762 1367.1 L785 1356.1 L807 1341.3 L830 1332.1 L852 1326.6 L874 1322.1 L897 1323.6 L919 1381.9 L942 1375.2 L964 1373.8 L986 1476.7 L1009 1426.9 L1031 1430.9 L1053 1406.2 L1076 1402.5 L1098 1410.3 L1121 1408.1 L1143 1414.3 L1165 1417.3 L1188 1412.5 L1210 1408.1 L1232 1404.7 L1255 1402.9 L1277 1411 L1300 1408.1 L1322 1407 L1344 1401 L1367 1402.9 L1389 1390 L1411 1401 L1434 1399.9 L1456 1399.6 L1479 1399.2 L1501 1399.9 L1523 1402.2 L1546 1400.3 L1568 1388.9 L1590 1385.6 L1613 1382.6 L1635 1392.2 L1658 1389.2 L1680 1401.4 L1702 1412.5 L1725 1377.4 L1747 1371.9 L1769 1365.6 L1792 1392.2 L1814 1385.2 L1837 1401.8 L1859 1385.6 L1881 1384.1 L1904 1394.8 L1926 1399.2 L1948 1397 L1971 1389.2 L1993 1378.6 L2016 1377.1 L2038 1386.3 L2060 1375.2 L2083 1382.2 L2105 1380 L2127 1381.1 L2150 1390.7 L2172 1438.7 L2195 1461.9 L2217 1426.5 L2239 1463.7 L2262 1460.4 L2284 1468.2 L2306 1459.3 L2329 1447.9 L2351 1439.4 L2374 1444.2 L2396 1439.8 L2418 1454.2 L2441 1451.9 L2463 1468.9 L2485 1484 L2508 1463.7 L2530 1472.2 L2553 1451.9 L2575 1436.8 L2597 1429.1 L2620 1433.1 L2642 1439.8 L2664 1435.7 L2687 1435 L2709 1444.9 L2732 1452.7 L2754 1441.2 L2776 1462.3 L2799 1475.2 L2821 1488.5 L2843 1471.9 L2866 1465.2 L2888 1485.5 L2911 1486.2 L2933 1467.8 L2955 1462.3 L2978 1458.6 L3000 1428.7 L3023 1407.3 L3045 1422.1 L3067 1418.4 L3090 1415.1 L3090 1370Z" fill="url(#rg)" clip-path="url(#c70)"/>
<g stroke="#787b86" stroke-width="2" stroke-dasharray="10 12" fill="none">
<path d="M25 1370 H3448.7" stroke="#6a6d7a"/>
<path d="M25 1430 H3448.7" stroke="#a0a3ad"/>
<path d="M25 1489 H3448.7" stroke="#6a6d7a"/>
</g>
<path d="M25.1 1383.7 L69 1370.1 L113.6 1356.1 L158.2 1339.5 L202.8 1329.1 L247.8 1327.3 L292.4 1328.4 L337.4 1335.8 L382.1 1343.2 L426.7 1349.8 L471.7 1359.7 L516.3 1367.1 L561.3 1373.4 L605.9 1379.3 L650.5 1381.9 L695.5 1383.7 L717.7 1384.5 L762.6 1383 L807.3 1378.9 L851.9 1371.9 L898.4 1362.3 L941.7 1360.9 L963.8 1359 L986.3 1365.3 L1008.8 1367.9 L1031.3 1371.9 L1075.9 1377.1 L1098 1380.8 L1120.5 1385.6 L1143 1391.8 L1165.2 1398.5 L1187.7 1405.1 L1210.1 1409.9 L1232.3 1411.7 L1254.8 1414 L1277.3 1416.5 L1299.8 1412.1 L1321.9 1410.6 L1344.4 1408.4 L1389 1407.3 L1434 1405.8 L1478.6 1403.6 L1523.2 1402.2 L1568.2 1400.7 L1612.9 1397.7 L1657.9 1395.5 L1702.5 1397 L1725 1395.5 L1769.6 1391.1 L1800 1390.4 L1836.9 1388.9 L1881.5 1387.4 L1926.5 1389.6 L1971.1 1389.6 L1993.6 1388.1 L2016.1 1385.9 L2060.7 1386.7 L2083.2 1387.8 L2127.9 1386.7 L2150.3 1386.3 L2172.5 1389.6 L2195 1395.1 L2217.5 1397.4 L2239.6 1402.2 L2262.1 1406.6 L2284.6 1412.1 L2307.1 1418 L2329.2 1422.8 L2351.7 1426.5 L2374.2 1431.7 L2396.3 1435.7 L2418.8 1441.2 L2441.3 1446.4 L2463.4 1451.6 L2485.9 1454.9 L2508.4 1454.9 L2530.9 1458.6 L2553.1 1457.5 L2575.6 1455.6 L2598.1 1453 L2620.2 1451.2 L2665.2 1450.1 L2709.7 1450.1 L2754.3 1449.4 L2799.3 1448.3 L2821.5 1450.1 L2844 1450.1 L2866.4 1450.8 L2888.6 1454.5 L2911.1 1458.2 L2933.6 1461.2 L2955.7 1463 L2978.2 1464.1 L3000.7 1463.7 L3023.2 1461.2 L3045.3 1458.9 L3067.8 1457.1 L3090.3 1453.8" stroke="#ffeb3b" stroke-width="2.2" fill="none" stroke-linejoin="round"/>
<path d="M25 1324.7 L46 1319.9 L69 1332.8 L91 1339.5 L114 1326.6 L136 1321 L158 1312.2 L181 1321 L203 1313.6 L225 1341.3 L248 1337.6 L270 1332.8 L293 1336.9 L315 1367.1 L337 1383.3 L360 1381.5 L382 1377.4 L404 1371.2 L427 1385.2 L449 1374.5 L472 1372.3 L494 1374.5 L516 1381.1 L539 1386.7 L561 1388.9 L583 1384.1 L606 1385.6 L628 1387.8 L651 1399.9 L673 1395.5 L695 1388.5 L718 1378.2 L740 1371.2 L762 1367.1 L785 1356.1 L807 1341.3 L830 1332.1 L852 1326.6 L874 1322.1 L897 1323.6 L919 1381.9 L942 1375.2 L964 1373.8 L986 1476.7 L1009 1426.9 L1031 1430.9 L1053 1406.2 L1076 1402.5 L1098 1410.3 L1121 1408.1 L1143 1414.3 L1165 1417.3 L1188 1412.5 L1210 1408.1 L1232 1404.7 L1255 1402.9 L1277 1411 L1300 1408.1 L1322 1407 L1344 1401 L1367 1402.9 L1389 1390 L1411 1401 L1434 1399.9 L1456 1399.6 L1479 1399.2 L1501 1399.9 L1523 1402.2 L1546 1400.3 L1568 1388.9 L1590 1385.6 L1613 1382.6 L1635 1392.2 L1658 1389.2 L1680 1401.4 L1702 1412.5 L1725 1377.4 L1747 1371.9 L1769 1365.6 L1792 1392.2 L1814 1385.2 L1837 1401.8 L1859 1385.6 L1881 1384.1 L1904 1394.8 L1926 1399.2 L1948 1397 L1971 1389.2 L1993 1378.6 L2016 1377.1 L2038 1386.3 L2060 1375.2 L2083 1382.2 L2105 1380 L2127 1381.1 L2150 1390.7 L2172 1438.7 L2195 1461.9 L2217 1426.5 L2239 1463.7 L2262 1460.4 L2284 1468.2 L2306 1459.3 L2329 1447.9 L2351 1439.4 L2374 1444.2 L2396 1439.8 L2418 1454.2 L2441 1451.9 L2463 1468.9 L2485 1484 L2508 1463.7 L2530 1472.2 L2553 1451.9 L2575 1436.8 L2597 1429.1 L2620 1433.1 L2642 1439.8 L2664 1435.7 L2687 1435 L2709 1444.9 L2732 1452.7 L2754 1441.2 L2776 1462.3 L2799 1475.2 L2821 1488.5 L2843 1471.9 L2866 1465.2 L2888 1485.5 L2911 1486.2 L2933 1467.8 L2955 1462.3 L2978 1458.6 L3000 1428.7 L3023 1407.3 L3045 1422.1 L3067 1418.4 L3090 1415.1" stroke="#7e57c2" stroke-width="2.2" fill="none" stroke-linejoin="round"/>
</g>
<g fill="none" stroke="#e6e9f1" stroke-width="1.8">
<path d="M25 67 H3602.4"/>
<path d="M25 67 V1584.8"/>
<path d="M3602.4 67 V1584.8"/>
<path d="M25 1584.8 H3602.4"/>
<path d="M25 1306 H3602.4"/>
</g>
<path d="M3448.7 67 V1515.8" stroke="#4a4a4a" stroke-width="1.8"/>
<path d="M25 1515.8 H3448.7" stroke="#333" stroke-width="1.8"/>
<path d="M3447.7 1517.3 H3602.4" stroke="#3a3a3a" stroke-width="3.8"/>
<path d="M3450.6 1516 V1584.8" stroke="#3a3a3a" stroke-width="4.6"/>
<text x="3466.8" y="213.7" font-size="26" fill="#505050" stroke="#505050" stroke-width="0.5" textLength="112.7" lengthAdjust="spacingAndGlyphs">74000.00</text>
<text x="3466.8" y="312.8" font-size="26" fill="#505050" stroke="#505050" stroke-width="0.5" textLength="112.7" lengthAdjust="spacingAndGlyphs">72000.00</text>
<text x="3466.8" y="414.7" font-size="26" fill="#505050" stroke="#505050" stroke-width="0.5" textLength="112.7" lengthAdjust="spacingAndGlyphs">70000.00</text>
<text x="3466.8" y="519.6" font-size="26" fill="#505050" stroke="#505050" stroke-width="0.5" textLength="112.7" lengthAdjust="spacingAndGlyphs">68000.00</text>
<text x="3466.8" y="627.6" font-size="26" fill="#505050" stroke="#505050" stroke-width="0.5" textLength="112.7" lengthAdjust="spacingAndGlyphs">66000.00</text>
<text x="3466.8" y="738.9" font-size="26" fill="#505050" stroke="#505050" stroke-width="0.5" textLength="112.7" lengthAdjust="spacingAndGlyphs">64000.00</text>
<text x="3466.8" y="853.8" font-size="26" fill="#505050" stroke="#505050" stroke-width="0.5" textLength="112.7" lengthAdjust="spacingAndGlyphs">62000.00</text>
<text x="3466.8" y="942.4" font-size="26" fill="#505050" stroke="#505050" stroke-width="0.5" textLength="112.7" lengthAdjust="spacingAndGlyphs">60500.00</text>
<text x="3466.8" y="1014.8" font-size="26" fill="#505050" stroke="#505050" stroke-width="0.5" textLength="112.7" lengthAdjust="spacingAndGlyphs">59300.00</text>
<text x="3466.8" y="1088.8" font-size="26" fill="#505050" stroke="#505050" stroke-width="0.5" textLength="112.7" lengthAdjust="spacingAndGlyphs">58100.00</text>
<text x="3466.8" y="1164.3" font-size="26" fill="#505050" stroke="#505050" stroke-width="0.5" textLength="112.7" lengthAdjust="spacingAndGlyphs">56900.00</text>
<text x="3466.8" y="1241.4" font-size="26" fill="#505050" stroke="#505050" stroke-width="0.5" textLength="112.7" lengthAdjust="spacingAndGlyphs">55700.00</text>
<text x="3466.3" y="1364.7" font-size="26" fill="#505050" stroke="#505050" stroke-width="0.5" textLength="68.2" lengthAdjust="spacingAndGlyphs">75.00</text>
<text x="3466.3" y="1439.1" font-size="26" fill="#505050" stroke="#505050" stroke-width="0.5" textLength="68.2" lengthAdjust="spacingAndGlyphs">50.00</text>
<text x="3466.3" y="1513.3" font-size="26" fill="#505050" stroke="#505050" stroke-width="0.5" textLength="68.2" lengthAdjust="spacingAndGlyphs">25.00</text>
<path d="M3447.8 801.7 H3589.1 Q3593.1 801.7 3593.1 805.7 V836.8 Q3593.1 840.8 3589.1 840.8 H3447.8 Z" fill="#2962ff"/>
<text x="3467.4" y="830.7" font-size="26" fill="#fff" stroke="#fff" stroke-width="0.5" textLength="112.7" lengthAdjust="spacingAndGlyphs">62404.09</text>
<path d="M3447.8 963.8 H3589.1 Q3593.1 963.8 3593.1 967.8 V999.2 Q3593.1 1003.2 3589.1 1003.2 H3447.8 Z" fill="#2962ff"/>
<text x="3467.4" y="992.9" font-size="26" fill="#fff" stroke="#fff" stroke-width="0.5" textLength="112.7" lengthAdjust="spacingAndGlyphs">59655.00</text>
<path d="M3446 523.3 H3333.9 Q3329.9 523.3 3329.9 527.3 V559 Q3329.9 563 3333.9 563 H3446 Z" fill="#26a69a"/>
<text x="3341" y="553" font-size="26" fill="#fff" stroke="#fff" stroke-width="0.5" textLength="92" lengthAdjust="spacingAndGlyphs">BTCUSD</text>
<path d="M3447.8 523.3 H3589.1 Q3593.1 523.3 3593.1 527.3 V590.8 Q3593.1 594.8 3589.1 594.8 H3447.8 Z" fill="#26a69a"/>
<text x="3467.4" y="553" font-size="26" fill="#fff" stroke="#fff" stroke-width="0.5" textLength="112.7" lengthAdjust="spacingAndGlyphs">67397.24</text>
<text x="3467.4" y="584.8" font-size="26" fill="#fff" stroke="#fff" stroke-width="0.5" textLength="107.6" lengthAdjust="spacingAndGlyphs" opacity="0.72">03:01:25</text>
<rect x="3457.6" y="76.8" width="134.4" height="63.6" rx="8" fill="#fff" stroke="#e8ebf3" stroke-width="1.6"/>
<text x="3480.8" y="118.4" font-size="26" fill="#131722" stroke="#131722" stroke-width="0.5" textLength="46.2" lengthAdjust="spacingAndGlyphs">USD</text>
<text x="136" y="1559.8" font-size="26" fill="#505050" stroke="#505050" stroke-width="0.5" text-anchor="middle">28</text>
<text x="404" y="1559.8" font-size="26" fill="#505050" stroke="#505050" stroke-width="0" text-anchor="middle" font-weight="bold">Mar</text>
<text x="606" y="1559.8" font-size="26" fill="#505050" stroke="#505050" stroke-width="0.5" text-anchor="middle">15:00</text>
<text x="807" y="1559.8" font-size="26" fill="#505050" stroke="#505050" stroke-width="0.5" text-anchor="middle">4</text>
<text x="1076" y="1559.8" font-size="26" fill="#505050" stroke="#505050" stroke-width="0.5" text-anchor="middle">6</text>
<text x="1344" y="1559.8" font-size="26" fill="#505050" stroke="#505050" stroke-width="0.5" text-anchor="middle">8</text>
<text x="1725" y="1559.8" font-size="26" fill="#505050" stroke="#505050" stroke-width="0.5" text-anchor="middle">11</text>
<text x="1993" y="1559.8" font-size="26" fill="#505050" stroke="#505050" stroke-width="0.5" text-anchor="middle">13</text>
<text x="2262" y="1559.8" font-size="26" fill="#505050" stroke="#505050" stroke-width="0.5" text-anchor="middle">15</text>
<text x="2463" y="1559.8" font-size="26" fill="#505050" stroke="#505050" stroke-width="0.5" text-anchor="middle">12:00</text>
<text x="2664" y="1559.8" font-size="26" fill="#505050" stroke="#505050" stroke-width="0.5" text-anchor="middle">18</text>
<text x="2933" y="1559.8" font-size="26" fill="#505050" stroke="#505050" stroke-width="0.5" text-anchor="middle">20</text>
<text x="3202" y="1559.8" font-size="26" fill="#505050" stroke="#505050" stroke-width="0.5" text-anchor="middle">22</text>
<text x="3403" y="1559.8" font-size="26" fill="#505050" stroke="#505050" stroke-width="0.5" text-anchor="middle">12:00</text>
<text x="25.5" y="48.9" font-size="29" fill="#131722" stroke="#131722" stroke-width="0.5" textLength="980" lengthAdjust="spacingAndGlyphs">Jake_Simmons published on TradingView.com, Mar 21, 2024 04:58 UTC-4</text>
<text x="45.5" y="115.5" font-size="28" fill="#505050" stroke="#505050" stroke-width="0.5" textLength="457.2" lengthAdjust="spacingAndGlyphs">Bitcoin / U.S. Dollar, 4h, BINANCE</text>
<text x="523" y="115.5" font-size="28" fill="#505050" stroke="#505050" stroke-width="0.5" textLength="21" lengthAdjust="spacingAndGlyphs">O</text>
<text x="546" y="115.5" font-size="28" fill="#9598a1" stroke="#9598a1" stroke-width="0.5" textLength="114" lengthAdjust="spacingAndGlyphs">67104.46</text>
<text x="680.4" y="115.5" font-size="28" fill="#505050" stroke="#505050" stroke-width="0.5" textLength="18.5" lengthAdjust="spacingAndGlyphs">H</text>
<text x="701" y="115.5" font-size="28" fill="#9598a1" stroke="#9598a1" stroke-width="0.5" textLength="114" lengthAdjust="spacingAndGlyphs">67756.84</text>
<text x="836" y="115.5" font-size="28" fill="#505050" stroke="#505050" stroke-width="0.5" textLength="12.5" lengthAdjust="spacingAndGlyphs">L</text>
<text x="849.5" y="115.5" font-size="28" fill="#9598a1" stroke="#9598a1" stroke-width="0.5" textLength="115" lengthAdjust="spacingAndGlyphs">67082.32</text>
<text x="985.3" y="115.5" font-size="28" fill="#505050" stroke="#505050" stroke-width="0.5" textLength="16.5" lengthAdjust="spacingAndGlyphs">C</text>
<text x="1002.7" y="115.5" font-size="28" fill="#9598a1" stroke="#9598a1" stroke-width="0.5" textLength="115" lengthAdjust="spacingAndGlyphs">67397.24</text>
<text x="1138.6" y="115.5" font-size="28" fill="#9598a1" stroke="#9598a1" stroke-width="0.5" textLength="216.4" lengthAdjust="spacingAndGlyphs">+306.17 (+0.46%)</text>
<text x="45.5" y="157.6" font-size="28" fill="#505050" stroke="#505050" stroke-width="0.5" textLength="262.7" lengthAdjust="spacingAndGlyphs">EMA 20/50/100/200</text>
<text x="327.7" y="157.6" font-size="28" fill="#ff0000" stroke="#ff0000" stroke-width="0.5" textLength="114.7" lengthAdjust="spacingAndGlyphs">65925.73</text>
<text x="462.5" y="157.6" font-size="28" fill="#ff8000" stroke="#ff8000" stroke-width="0.5" textLength="114.7" lengthAdjust="spacingAndGlyphs">66939.25</text>
<text x="597.8" y="157.6" font-size="28" fill="#00ffff" stroke="#00ffff" stroke-width="0.5" textLength="114.2" lengthAdjust="spacingAndGlyphs">66253.17</text>
<text x="732.6" y="157.6" font-size="28" fill="#0000ff" stroke="#0000ff" stroke-width="0.5" textLength="113.1" lengthAdjust="spacingAndGlyphs">62381.11</text>
<text x="45.5" y="199.6" font-size="28" fill="#505050" stroke="#505050" stroke-width="0.5" textLength="121.9" lengthAdjust="spacingAndGlyphs">Vol · BTC</text>
<text x="187.5" y="199.6" font-size="28" fill="#26a69a" stroke="#26a69a" stroke-width="0.5" textLength="29.9" lengthAdjust="spacingAndGlyphs">29</text>
<text x="45" y="1356.3" font-size="28" fill="#505050" stroke="#505050" stroke-width="0.5" textLength="354.4" lengthAdjust="spacingAndGlyphs">RSI (14, close, SMA, 14, 2)</text>
<text x="421.5" y="1356.3" font-size="28" fill="#7e57c2" stroke="#7e57c2" stroke-width="0.5" textLength="67.9" lengthAdjust="spacingAndGlyphs">54.82</text>
<text x="510" y="1356.3" font-size="28" fill="#ffeb3b" stroke="#ffeb3b" stroke-width="0.5" textLength="69.7" lengthAdjust="spacingAndGlyphs">41.78</text>
<g stroke="#505050" stroke-width="2" fill="none">
<circle cx="614" cy="1346" r="8.3"/><path d="M605.5 1357.5 L622.5 1334.5"/>
<circle cx="662.7" cy="1346" r="8.3"/><path d="M654.2 1357.5 L671.2 1334.5"/>
<circle cx="711.8" cy="1346" r="8.3"/><path d="M703.3 1357.5 L720.3 1334.5"/>
<circle cx="760.8" cy="1346" r="8.3"/><path d="M752.3 1357.5 L769.3 1334.5"/>
<circle cx="809.5" cy="1346" r="8.3"/><path d="M801 1357.5 L818 1334.5"/>
<circle cx="858.5" cy="1346" r="8.3"/><path d="M850 1357.5 L867 1334.5"/>
</g>
<g fill="#131722">
<path d="M25.6 1615.3 H44.8 V1639.9 H34.7 V1625.2 H25.6 Z"/>
<circle cx="52.5" cy="1620.6" r="4.9"/>
<path d="M62.4 1615.3 H73.4 L64.1 1639.9 H53 Z"/>
</g>
<text x="83.2" y="1641" font-size="32" fill="#131722" stroke="#131722" stroke-width="0.5" textLength="176" lengthAdjust="spacingAndGlyphs">TradingView</text>
</svg></body></html>
